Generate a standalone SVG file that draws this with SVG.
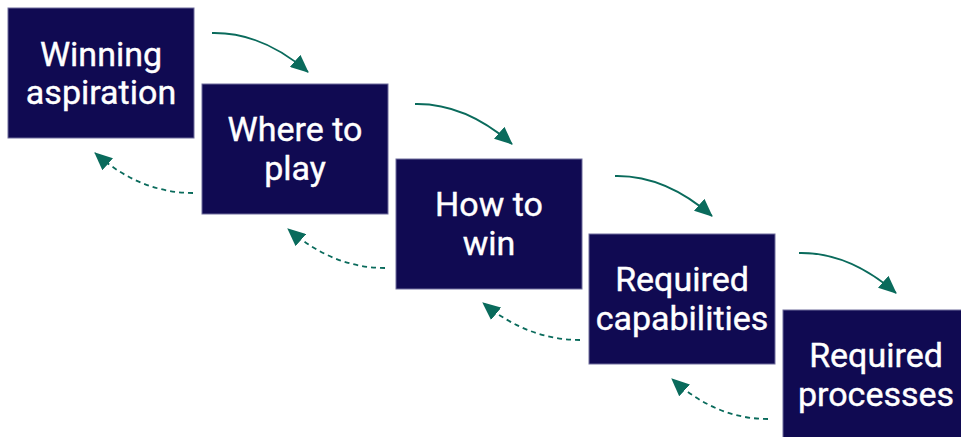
<svg xmlns="http://www.w3.org/2000/svg" width="961" height="437" viewBox="0 0 961 437">
  <defs>
    <marker id="ah" viewBox="0 0 18 16" refX="17" refY="8" markerWidth="18" markerHeight="16" markerUnits="userSpaceOnUse" orient="auto">
      <path d="M0,0 L18,8 L0,16 z" fill="#0a6b5c"/>
    </marker>
    <style>
      .box { fill: #100a52; stroke: #6e6c9c; stroke-width: 1; }
      .lbl { font-family: Roboto, "Liberation Sans", sans-serif; font-size: 34px; font-weight: 400; fill: #ffffff; stroke: #ffffff; stroke-width: 0.4; text-anchor: middle; }
      .fwd { fill: none; stroke: #0a6b5c; stroke-width: 1.8; marker-end: url(#ah); }
      .back { fill: none; stroke: #0a6b5c; stroke-width: 1.8; stroke-dasharray: 5 4; marker-end: url(#ah); }
    </style>
  </defs>
  <rect width="961" height="437" fill="#ffffff"/>
  <g id="connectors">
    <path class="fwd" d="M212,33 Q262,32 308,72"/>
    <path class="fwd" d="M415,104 Q465,103 512,144"/>
    <path class="fwd" d="M615,176 Q665,175 712,216"/>
    <path class="fwd" d="M799,253 Q849,252 896,293"/>
    <path class="back" d="M193,193 Q140,193 95,153"/>
    <path class="back" d="M385,268 Q333,268 288,229"/>
    <path class="back" d="M580,340 Q528,340 483,303"/>
    <path class="back" d="M768,419 Q716,419 672,379"/>
  </g>
  <g id="node1">
    <rect class="box" x="8" y="8" width="186" height="130"/>
    <text class="lbl" x="101" y="65.5">Winning</text>
    <text class="lbl" x="101" y="104">aspiration</text>
  </g>
  <g id="node2">
    <rect class="box" x="202" y="84" width="186" height="130"/>
    <text class="lbl" x="295" y="141">Where to</text>
    <text class="lbl" x="295" y="180">play</text>
  </g>
  <g id="node3">
    <rect class="box" x="396" y="159" width="186" height="130"/>
    <text class="lbl" x="489" y="216">How to</text>
    <text class="lbl" x="489" y="255">win</text>
  </g>
  <g id="node4">
    <rect class="box" x="589" y="234" width="186" height="130"/>
    <text class="lbl" x="682" y="291">Required</text>
    <text class="lbl" x="682" y="330">capabilities</text>
  </g>
  <g id="node5">
    <rect class="box" x="783" y="310" width="186" height="130"/>
    <text class="lbl" x="876" y="367">Required</text>
    <text class="lbl" x="876" y="406">processes</text>
  </g>
</svg>
